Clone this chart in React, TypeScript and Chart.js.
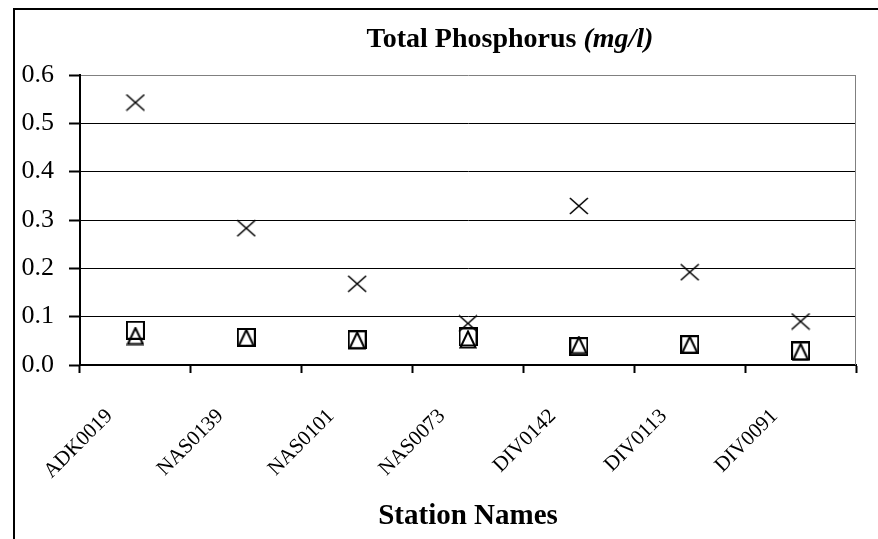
import React, { useEffect, useRef } from 'react';
import { Chart, registerables } from 'chart.js';

Chart.register(...registerables);

const stations = ['ADK0019', 'NAS0139', 'NAS0101', 'NAS0073', 'DIV0142', 'DIV0113', 'DIV0091'];
const crossValues = [0.543, 0.283, 0.168, 0.086, 0.329, 0.192, 0.09];
const squareValues = [0.072, 0.057, 0.052, 0.058, 0.038, 0.042, 0.029];
const triangleValues = [0.06, 0.056, 0.051, 0.053, 0.041, 0.042, 0.027];
const yTickValues = [0, 0.1, 0.2, 0.3, 0.4, 0.5, 0.6];
const yTickLabels = ['0.0', '0.1', '0.2', '0.3', '0.4', '0.5', '0.6'];
const titleMain = 'Total Phosphorus ';
const titleUnit = '(mg/l)';
const xAxisTitle = 'Station Names';

const FONT = '"Liberation Serif", "Times New Roman", serif';

function makeSquare() {
  const c = document.createElement('canvas');
  c.width = 19; c.height = 19;
  const ctx = c.getContext('2d')!;
  ctx.strokeStyle = '#000';
  ctx.lineWidth = 2;
  ctx.strokeRect(1, 1, 17, 17);
  return c;
}
function makeTriangle() {
  const c = document.createElement('canvas');
  c.width = 18; c.height = 19;
  const ctx = c.getContext('2d')!;
  ctx.strokeStyle = '#000';
  ctx.lineWidth = 2;
  ctx.beginPath();
  ctx.moveTo(9, 1.5);
  ctx.lineTo(16.5, 17.5);
  ctx.lineTo(1.5, 17.5);
  ctx.closePath();
  ctx.stroke();
  return c;
}
function makeCross() {
  const c = document.createElement('canvas');
  c.width = 20; c.height = 18;
  const ctx = c.getContext('2d')!;
  ctx.strokeStyle = '#000';
  ctx.lineWidth = 1.6;
  ctx.beginPath();
  ctx.moveTo(1, 1); ctx.lineTo(19, 17);
  ctx.moveTo(19, 1); ctx.lineTo(1, 17);
  ctx.stroke();
  return c;
}

const framePlugin = {
  id: 'frame',
  beforeDraw(chart: any) {
    const ctx = chart.ctx;
    ctx.save();
    ctx.fillStyle = '#fff';
    ctx.fillRect(0, 0, chart.width, chart.height);
    ctx.fillStyle = '#000';
    ctx.fillRect(13, 8, 2, chart.height - 8);
    ctx.fillRect(13, 8, chart.width - 13, 2);
    ctx.restore();
  },
  beforeDatasetsDraw(chart: any) {
    const { ctx, chartArea } = chart;
    ctx.save();
    ctx.strokeStyle = '#808080';
    ctx.lineWidth = 1;
    ctx.beginPath();
    ctx.moveTo(chartArea.right - 0.5, chartArea.top);
    ctx.lineTo(chartArea.right - 0.5, chartArea.bottom);
    ctx.stroke();
    ctx.restore();
  },
  afterDraw(chart: any) {
    const ctx = chart.ctx;
    ctx.save();
    ctx.fillStyle = '#000';
    ctx.textBaseline = 'alphabetic';
    ctx.font = `bold 28px ${FONT}`;
    const w1 = ctx.measureText(titleMain).width;
    ctx.font = `italic bold 28px ${FONT}`;
    const w2 = ctx.measureText(titleUnit).width;
    const cx = 510;
    const x0 = cx - (w1 + w2) / 2;
    const y = 47;
    ctx.font = `bold 28px ${FONT}`;
    ctx.fillText(titleMain, x0, y);
    ctx.font = `italic bold 28px ${FONT}`;
    ctx.fillText(titleUnit, x0 + w1, y);
    ctx.restore();
  },
};

export default function App() {
  const ref = useRef<HTMLCanvasElement>(null);
  useEffect(() => {
    const square = makeSquare();
    const triangle = makeTriangle();
    const cross = makeCross();
    const chart = new Chart(ref.current!, {
      type: 'line',
      data: {
        labels: stations,
        datasets: [
          { label: 'Series 1', data: squareValues, showLine: false, pointStyle: square as any, pointRadius: 9, borderColor: '#000', backgroundColor: 'transparent' },
          { label: 'Series 2', data: triangleValues, showLine: false, pointStyle: triangle as any, pointRadius: 9, borderColor: '#000', backgroundColor: 'transparent' },
          { label: 'Series 3', data: crossValues, showLine: false, pointStyle: cross as any, pointRadius: 10, borderColor: '#000', backgroundColor: 'transparent' },
        ],
      },
      options: {
        animation: false,
        responsive: false,
        devicePixelRatio: 1,
        layout: { padding: { top: 75, right: 22, left: 0, bottom: 0 } },
        plugins: { legend: { display: false }, title: { display: false }, tooltip: { enabled: false } },
        scales: {
          x: {
            type: 'category',
            offset: true,
            grid: { offset: true, drawOnChartArea: false, drawTicks: true, tickLength: 8, tickColor: '#000', tickWidth: 2, color: '#000' },
            border: { display: true, color: '#000', width: 2 },
            ticks: {
              autoSkip: false, minRotation: 45, maxRotation: 45, labelOffset: -26, padding: 31,
              color: '#000', font: { family: FONT, size: 21 },
            },
            title: { display: true, text: xAxisTitle, color: '#000', font: { family: FONT, size: 29, weight: 'bold' }, padding: { top: 0, bottom: 5 } },
            afterFit: (s: any) => { s.height = 174; },
          },
          y: {
            min: 0, max: 0.6,
            afterBuildTicks: (s: any) => { s.ticks = yTickValues.map((v) => ({ value: v })); },
            grid: {
              color: (c: any) => (c.tick && Math.abs(c.tick.value - 0.6) < 1e-9 ? '#808080' : '#000'),
              lineWidth: 1, tickColor: '#000', tickWidth: 2, tickLength: 11, drawTicks: true,
            },
            border: { display: true, color: '#000', width: 2 },
            ticks: {
              padding: 15, color: '#000', font: { family: FONT, size: 26 },
              callback: (v: any) => { const i = yTickValues.findIndex((t) => Math.abs(t - Number(v)) < 1e-9); return i >= 0 ? yTickLabels[i] : ''; },
            },
            afterFit: (s: any) => { s.width = 80; },
          },
        },
      } as any,
      plugins: [framePlugin],
    });
    return () => chart.destroy();
  }, []);
  return (
    <div style={{ position: 'absolute', left: 0, top: 0, width: 878, height: 539 }}>
      <canvas ref={ref} width={878} height={539} style={{ display: 'block', width: 878, height: 539 }} />
    </div>
  );
}
